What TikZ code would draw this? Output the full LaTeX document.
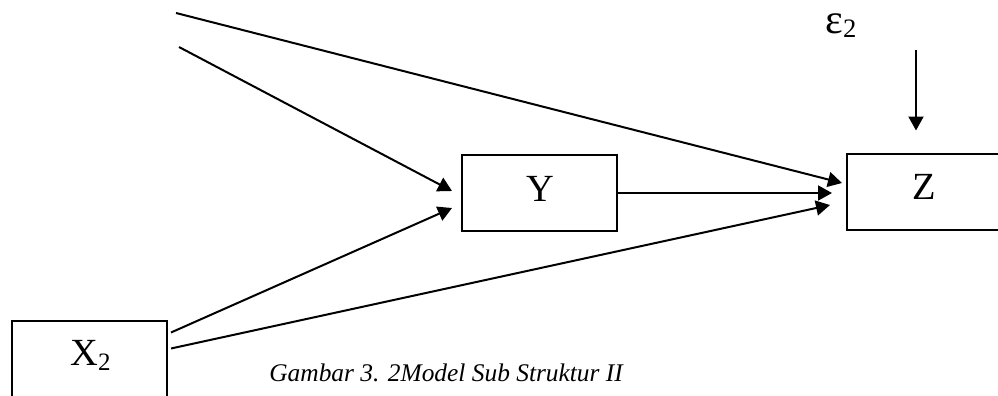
\documentclass[tikz,border=0pt]{standalone}
\usepackage{fontspec}
\setmainfont{Liberation Serif}
\usetikzlibrary{arrows.meta,calc}
\begin{document}
\begin{tikzpicture}[x=0.5pt,y=-0.5pt,
  box/.style={draw,line width=1pt,minimum width=77.5pt,minimum height=38pt,inner sep=0pt},
  lbl/.style={inner sep=0pt,font=\fontsize{19.2}{20}\selectfont},
  conn/.style={line width=1pt,-{Triangle[length=7pt,width=7.5pt]}},
  captext/.style={inner sep=0pt,font=\fontsize{12.7}{14}\selectfont\itshape}]
\useasboundingbox (0,0) rectangle (998,396);
\clip (0,0) rectangle (998,396);
% boxes
\node[box] (X) at (89.5,359) {};
\node[box] (Y) at (539.5,193) {};
\node[box] (Z) at (924.5,191.5) {};
% labels
\node[lbl,anchor=base west] (xl) at (70,365) {X\raisebox{-2.5pt}{\fontsize{12.5}{13}\selectfont 2}};
\node[lbl,anchor=base] (yl) at (540,201) {Y};
\node[lbl,anchor=base] (zl) at (924.5,199.5) {Z};
\node[inner sep=0pt,anchor=base west] (eps) at (825,33) {\fontsize{21}{22}\selectfont ε\raisebox{-2pt}{\fontsize{13.3}{14}\selectfont 2}};
\node[captext,anchor=base west] (caption) at (269,381) {Gambar 3. 2Model Sub Struktur II};
% free ends
\coordinate (t1) at (176,13);
\coordinate (t2) at (179,47);
\coordinate (e1) at (916,50);
% connectors
\draw[conn] (t1) -- ($(Z.west)+(-4,-8.5)$);
\draw[conn] (t2) -- ($(Y.west)+(-9,-2)$);
\draw[conn] ($(X.east)+(3,-26.5)$) -- ($(Y.west)+(-9,15)$);
\draw[conn] ($(X.east)+(3,-10.5)$) -- ($(Z.west)+(-16,13.5)$);
\draw[conn] (Y.east) -- ($(Z.west)+(-14,1.5)$);
\draw[conn] (e1) -- ($(Z.north)+(-8.5,-22)$);
\end{tikzpicture}
\end{document}
